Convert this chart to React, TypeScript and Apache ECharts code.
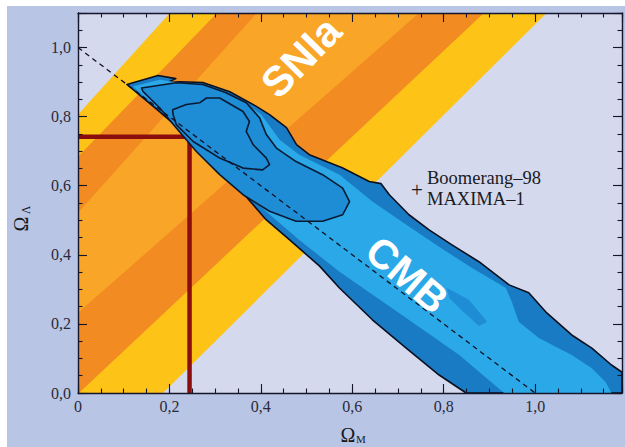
import React, { useEffect, useRef } from 'react';
import * as echarts from 'echarts';

// ---- axis ranges & tick labels ----
const X_MAX = 1.19;
const Y_MAX = 1.1;
const xTickLabels = ['0', '0,2', '0,4', '0,6', '0,8', '1,0'];
const yTickLabels = ['0,0', '0,2', '0,4', '0,6', '0,8', '1,0'];

// ---- SNIa confidence bands (Omega_M, Omega_Lambda) ----
const snBandOuter = [[0, 0], [0, 0.806], [0.201, 1.1], [1.025, 1.1], [0.186, 0]];
const snBandMiddle = [[0, 0], [0, 0.684], [0.304, 1.1], [0.888, 1.1], [0.002, 0]];
const snBandInner = [[0, 0.232], [0, 0.522], [0.391, 1.1], [0.746, 1.1]];

// ---- CMB (Boomerang-98 + MAXIMA-1) contours ----
const cmbOuter = [
  [0.107, 0.893], [0.175, 0.919], [0.214, 0.91], [0.196, 0.899], [0.223, 0.901],
  [0.273, 0.899], [0.332, 0.872], [0.391, 0.829], [0.419, 0.806], [0.456, 0.768],
  [0.478, 0.719], [0.506, 0.69], [0.578, 0.652], [0.637, 0.612], [0.663, 0.606],
  [0.681, 0.574], [0.724, 0.516], [0.768, 0.472], [0.818, 0.429], [0.877, 0.38],
  [0.943, 0.313], [0.986, 0.29], [1.023, 0.235], [1.08, 0.168], [1.124, 0.13],
  [1.167, 0.081], [1.19, 0.06], [1.19, 0], [0.849, 0], [0.79, 0.052],
  [0.718, 0.13], [0.644, 0.212], [0.572, 0.304], [0.528, 0.368], [0.463, 0.443],
  [0.412, 0.501], [0.332, 0.623], [0.244, 0.739], [0.179, 0.814],
];
const cmbLight = [
  [0.12, 0.887], [0.179, 0.907], [0.277, 0.887], [0.353, 0.849], [0.401, 0.806],
  [0.441, 0.733], [0.484, 0.69], [0.572, 0.632], [0.644, 0.554], [0.718, 0.487],
  [0.79, 0.423], [0.862, 0.362], [0.936, 0.304], [0.949, 0.264], [0.964, 0.206],
  [1.008, 0.159], [1.08, 0.11], [1.124, 0.072], [1.154, 0.032], [1.167, 0],
  [0.932, 0], [0.834, 0.11], [0.718, 0.217], [0.572, 0.351], [0.484, 0.443],
  [0.397, 0.542], [0.31, 0.646], [0.244, 0.733], [0.179, 0.82],
];
const cmbContour2 = [
  [0.139, 0.883], [0.215, 0.898], [0.273, 0.893], [0.324, 0.869], [0.368, 0.84],
  [0.397, 0.797], [0.412, 0.748], [0.434, 0.709], [0.477, 0.67], [0.535, 0.632],
  [0.579, 0.593], [0.594, 0.554], [0.579, 0.516], [0.535, 0.497], [0.477, 0.497],
  [0.419, 0.526], [0.361, 0.574], [0.31, 0.632], [0.259, 0.699], [0.215, 0.767],
  [0.179, 0.825], [0.142, 0.873],
];
const cmbContour3 = [
  [0.207, 0.82], [0.237, 0.835], [0.266, 0.84], [0.281, 0.854], [0.31, 0.854],
  [0.361, 0.815], [0.375, 0.786], [0.368, 0.757], [0.383, 0.719], [0.412, 0.68],
  [0.419, 0.661], [0.404, 0.646], [0.361, 0.651], [0.31, 0.68], [0.252, 0.728],
  [0.215, 0.777], [0.208, 0.806],
];
const cmbPatch = [
  [0.807, 0.304], [0.855, 0.27], [0.895, 0.206], [0.877, 0.194], [0.838, 0.241], [0.812, 0.275],
];

// ---- lines ----
const flatUniverse = [[0, 1], [1, 0]];
const concordance = [[0, 0.742], [0.244, 0.742], [0.244, 0]];

const SERIF = '"Liberation Serif", "Times New Roman", serif';
const SANS = '"Liberation Sans", Arial, Helvetica, sans-serif';
const AXIS_COLOR = '#16162a';

function polygonSeries(points: number[][], fill: string, stroke: string | null, lw: number, z: number) {
  return {
    type: 'custom',
    coordinateSystem: 'cartesian2d',
    xAxisIndex: 0,
    yAxisIndex: 0,
    z,
    silent: true,
    data: [[0, 0]],
    renderItem: (_params: any, api: any) => {
      const style: any = { fill };
      if (stroke) {
        style.stroke = stroke;
        style.lineWidth = lw;
        style.lineJoin = 'round';
      }
      return {
        type: 'polygon',
        shape: { points: points.map((p) => api.coord(p)) },
        style,
      };
    },
  };
}

function isMajor(v: number) {
  return Math.abs(v / 0.2 - Math.round(v / 0.2)) < 1e-6;
}

function makeAxis(dim: 'x' | 'y', position: string, major: boolean, labels: boolean) {
  const max = dim === 'x' ? X_MAX : Y_MAX;
  const tickLabels = dim === 'x' ? xTickLabels : yTickLabels;
  return {
    type: 'value',
    min: 0,
    max,
    interval: major ? 0.2 : 0.05,
    position,
    z: 10,
    axisLine: { show: major, onZero: false, lineStyle: { color: AXIS_COLOR, width: 1.4 } },
    axisTick: { show: true, inside: true, length: major ? 9 : 4.5, lineStyle: { color: AXIS_COLOR, width: 1.1 } },
    axisLabel: {
      show: labels,
      margin: dim === 'x' ? 5 : 7,
      fontFamily: SERIF,
      fontSize: 16,
      color: '#2a2a38',
      formatter: (v: number) => (isMajor(v) && v <= 1.0001 ? tickLabels[Math.round(v / 0.2)] : ''),
    },
    splitLine: { show: false },
  };
}

export default function App() {
  const ref = useRef<HTMLDivElement>(null);

  useEffect(() => {
    if (!ref.current) return;
    const chart = echarts.init(ref.current, undefined, { renderer: 'svg' });
    chart.setOption({
      animation: false,
      backgroundColor: 'transparent',
      grid: { left: 78, top: 13, right: 1, bottom: 54, show: true, backgroundColor: '#d4d9ee', borderWidth: 0 },
      xAxis: [
        makeAxis('x', 'bottom', true, true),
        makeAxis('x', 'bottom', false, false),
        makeAxis('x', 'top', true, false),
        makeAxis('x', 'top', false, false),
      ],
      yAxis: [
        makeAxis('y', 'left', true, true),
        makeAxis('y', 'left', false, false),
        makeAxis('y', 'right', true, false),
        makeAxis('y', 'right', false, false),
      ],
      series: [
        polygonSeries(snBandOuter, '#fdc317', null, 0, 1),
        polygonSeries(snBandMiddle, '#f28b21', null, 0, 1),
        polygonSeries(snBandInner, '#f9a527', null, 0, 1),
        {
          type: 'line',
          data: concordance,
          xAxisIndex: 0,
          yAxisIndex: 0,
          z: 2,
          symbol: 'none',
          silent: true,
          lineStyle: { color: '#8b0d0d', width: 4.5, cap: 'butt', join: 'miter' },
        },
        polygonSeries(cmbOuter, '#1a7bc5', '#0a0f1e', 1.6, 3),
        polygonSeries(cmbLight, '#2aa8e7', null, 0, 3),
        polygonSeries(cmbPatch, '#1e8dd6', null, 0, 3),
        polygonSeries(cmbContour2, '#1e8dd6', '#0a1a33', 1.6, 3),
        polygonSeries(cmbContour3, '#1e8dd6', '#0a1a33', 1.6, 3),
        {
          type: 'line',
          data: flatUniverse,
          xAxisIndex: 0,
          yAxisIndex: 0,
          z: 4,
          symbol: 'none',
          silent: true,
          lineStyle: { color: '#111122', width: 1.3, type: [5, 4] },
        },
      ],
      graphic: [
        {
          type: 'text', x: 301, y: 57, rotation: 0.8, z: 20, silent: true,
          style: { text: 'SNIa', fill: '#ffffff', font: `bold 42px ${SANS}`, align: 'center', verticalAlign: 'middle' },
        },
        {
          type: 'text', x: 407, y: 275, rotation: -0.71, z: 20, silent: true,
          style: { text: 'CMB', fill: '#ffffff', font: `bold 41px ${SANS}`, align: 'center', verticalAlign: 'middle' },
        },
        {
          type: 'text', x: 417, y: 190, z: 20, silent: true,
          style: { text: '+', fill: '#1a1a22', font: `21px ${SERIF}`, align: 'center', verticalAlign: 'middle' },
        },
        {
          type: 'text', x: 427, y: 178, z: 20, silent: true,
          style: { text: 'Boomerang–98', fill: '#1a1a22', font: `18.5px ${SERIF}`, align: 'left', verticalAlign: 'middle' },
        },
        {
          type: 'text', x: 427, y: 199, z: 20, silent: true,
          style: { text: 'MAXIMA–1', fill: '#1a1a22', font: `18.5px ${SERIF}`, align: 'left', verticalAlign: 'middle' },
        },
        {
          type: 'text', x: 348, y: 435, z: 20, silent: true,
          style: { text: 'Ω', fill: '#1a1a22', font: `20px ${SERIF}`, align: 'center', verticalAlign: 'middle' },
        },
        {
          type: 'text', x: 356, y: 439, z: 20, silent: true,
          style: { text: 'M', fill: '#1a1a22', font: `11px ${SERIF}`, align: 'left', verticalAlign: 'middle' },
        },
        {
          type: 'text', x: 21, y: 224, rotation: Math.PI / 2, z: 20, silent: true,
          style: { text: 'Ω', fill: '#1a1a22', font: `20px ${SERIF}`, align: 'center', verticalAlign: 'middle' },
        },
        {
          type: 'text', x: 26, y: 210, rotation: Math.PI / 2, z: 20, silent: true,
          style: { text: 'Λ', fill: '#1a1a22', font: `12px ${SERIF}`, align: 'center', verticalAlign: 'middle' },
        },
      ],
    });
    return () => chart.dispose();
  }, []);

  return (
    <div style={{ position: 'fixed', left: 0, top: 0, width: 625, height: 447, background: '#ffffff', overflow: 'hidden' }}>
      <div style={{ position: 'absolute', left: 7, top: 6, right: 0, bottom: 0, background: '#b9c5e5' }} />
      <div ref={ref} style={{ position: 'absolute', left: 0, top: 0, width: 625, height: 447 }} />
    </div>
  );
}
